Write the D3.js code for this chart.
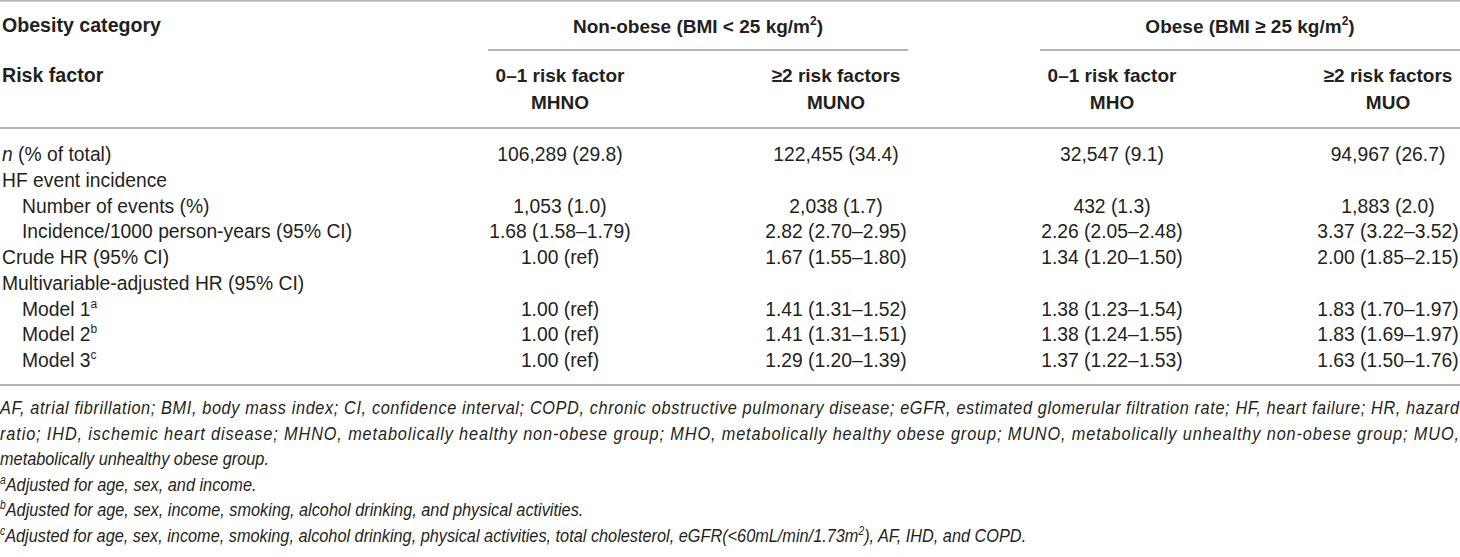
<!DOCTYPE html>
<html><head><meta charset="utf-8">
<script src="https://cdn.jsdelivr.net/npm/d3@7"></script>
<style>
html,body{margin:0;padding:0;background:#fff;}
svg{display:block;}
text{font-family:"Liberation Sans",Arial,sans-serif;fill:#231f20;}
</style></head>
<body>
<svg id="t" width="1460" height="557"></svg>
<script>
// ---- data ----
const columns = ["MHNO","MUNO","MHO","MUO"];
const riskHeads = ["0–1 risk factor","≥2 risk factors","0–1 risk factor","≥2 risk factors"];
const groupHeads = [["Non-obese (BMI < 25 kg/m","2",")"],["Obese (BMI ≥ 25 kg/m","2",")"]];
const rowLabels = ["n (% of total)","HF event incidence","Number of events (%)","Incidence/1000 person-years (95% CI)","Crude HR (95% CI)","Multivariable-adjusted HR (95% CI)","Model 1","Model 2","Model 3"];
const rowIndent = [0,0,1,1,0,0,1,1,1];
const rowSup = ["","","","","","","a","b","c"];
const MHNO = ["106,289 (29.8)","","1,053 (1.0)","1.68 (1.58–1.79)","1.00 (ref)","","1.00 (ref)","1.00 (ref)","1.00 (ref)"];
const MUNO = ["122,455 (34.4)","","2,038 (1.7)","2.82 (2.70–2.95)","1.67 (1.55–1.80)","","1.41 (1.31–1.52)","1.41 (1.31–1.51)","1.29 (1.20–1.39)"];
const MHO  = ["32,547 (9.1)","","432 (1.3)","2.26 (2.05–2.48)","1.34 (1.20–1.50)","","1.38 (1.23–1.54)","1.38 (1.24–1.55)","1.37 (1.22–1.53)"];
const MUO  = ["94,967 (26.7)","","1,883 (2.0)","3.37 (3.22–3.52)","2.00 (1.85–2.15)","","1.83 (1.70–1.97)","1.83 (1.69–1.97)","1.63 (1.50–1.76)"];
const footnotes = [
  {sup:"", text:"AF, atrial fibrillation; BMI, body mass index; CI, confidence interval; COPD, chronic obstructive pulmonary disease; eGFR, estimated glomerular filtration rate; HF, heart failure; HR, hazard", justify:true},
  {sup:"", text:"ratio; IHD, ischemic heart disease; MHNO, metabolically healthy non-obese group; MHO, metabolically healthy obese group; MUNO, metabolically unhealthy non-obese group; MUO,", justify:true},
  {sup:"", text:"metabolically unhealthy obese group."},
  {sup:"a", text:"Adjusted for age, sex, and income."},
  {sup:"b", text:"Adjusted for age, sex, income, smoking, alcohol drinking, and physical activities."},
  {sup:"c", text:"Adjusted for age, sex, income, smoking, alcohol drinking, physical activities, total cholesterol, eGFR(<60mL/min/1.73m", tail:["2","), AF, IHD, and COPD."]}
];
const values = {MHNO, MUNO, MHO, MUO};

// ---- layout ----
const W = 1460;
const svg = d3.select("#t");
const FS = 19.3;
const lineColor = "#9b9b9b";

const x = d3.scalePoint().domain(columns).range([560, 1388]);
const y = d3.scalePoint().domain(d3.range(rowLabels.length)).range([161, 367]);
const fy = d3.scalePoint().domain(d3.range(footnotes.length)).range([414, 542]);

function hline(x1, x2, yy){
  svg.append("line").attr("x1",x1).attr("x2",x2).attr("y1",yy).attr("y2",yy)
    .attr("stroke",lineColor).attr("stroke-width",1.3);
}
hline(0, W, 0.8);
hline(0, W, 128);
hline(0, W, 385);

// header
svg.append("text").attr("x",2).attr("y",32).attr("font-size",19.6).attr("font-weight","bold").text("Obesity category");
svg.append("text").attr("x",2).attr("y",82).attr("font-size",19.6).attr("font-weight","bold").text("Risk factor");

groupHeads.forEach((g,i)=>{
  const cx = (x(columns[2*i]) + x(columns[2*i+1]))/2;
  const t = svg.append("text").attr("x",cx).attr("y",33).attr("font-size",19).attr("font-weight","bold").attr("text-anchor","middle");
  t.append("tspan").text(g[0]);
  t.append("tspan").attr("font-size",12).attr("dy",-8).text(g[1]);
  t.append("tspan").attr("dy",8).text(g[2]);
  hline(cx-210, cx+210, 50);
});

columns.forEach((c,i)=>{
  svg.append("text").attr("x",x(c)).attr("y",82).attr("font-size",19).attr("font-weight","bold").attr("text-anchor","middle").text(riskHeads[i]);
  svg.append("text").attr("x",x(c)).attr("y",109).attr("font-size",19).attr("font-weight","bold").attr("text-anchor","middle").text(c);
});

// row labels
rowLabels.forEach((lab,i)=>{
  const t = svg.append("text").attr("x", rowIndent[i] ? 22 : 2).attr("y", y(i)).attr("font-size",FS);
  if(i===0){
    t.append("tspan").attr("font-style","italic").text("n");
    t.append("tspan").text(lab.slice(1));
  } else {
    t.append("tspan").text(lab);
  }
  if(rowSup[i]){
    t.append("tspan").attr("font-size",12).attr("dy",-8).text(rowSup[i]);
  }
});

// values
columns.forEach(c=>{
  svg.append("g").selectAll("text").data(values[c]).join("text")
    .attr("x", x(c)).attr("y",(d,i)=>y(i)).attr("font-size",FS).attr("text-anchor","middle").text(d=>d);
});

// footnotes
const fg = svg.append("g");
const fts = footnotes.map((f,i)=>{
  const t = fg.append("text").attr("x",0).attr("y",fy(i)).attr("font-size",19).attr("font-style","italic");
  if(f.sup) t.append("tspan").attr("font-size",12).attr("dy",-7).text(f.sup);
  t.append("tspan").attr("dy", f.sup ? 7 : 0).text(f.text);
  if(f.tail){
    t.append("tspan").attr("font-size",12).attr("dy",-7).text(f.tail[0]);
    t.append("tspan").attr("dy",7).text(f.tail[1]);
  }
  return t;
});
// compress horizontally to the condensed look of the reference
const natural = fts[5].node().getComputedTextLength();
const k = 1027 / natural;
fts.forEach((t,i)=>{
  if(footnotes[i].justify){
    t.attr("textLength", 1459/k).attr("lengthAdjust","spacing");
  }
  t.attr("transform", `scale(${k},1)`);
});
</script>
</body></html>
